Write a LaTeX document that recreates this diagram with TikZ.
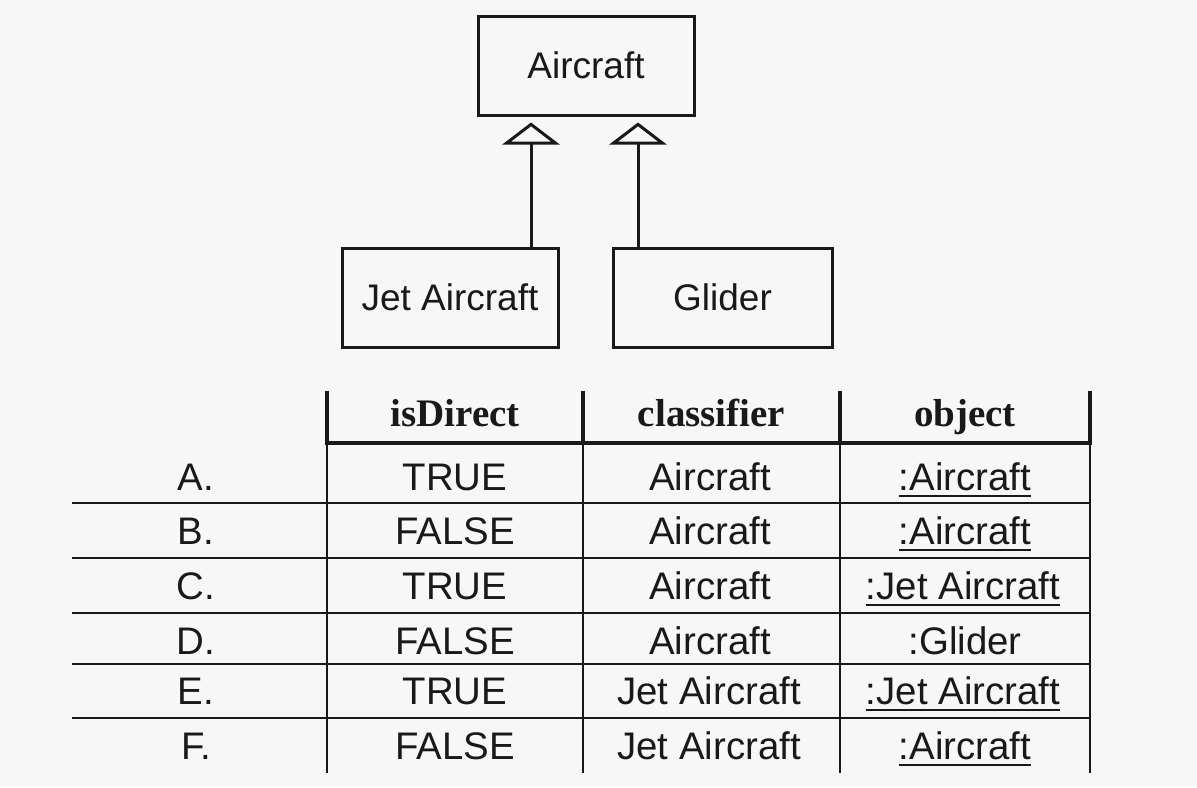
\documentclass[tikz,border=0pt]{standalone}
\usepackage{fontspec}
\setmainfont{Liberation Sans}
\newfontfamily\hdrfont{Liberation Serif}
\usetikzlibrary{arrows.meta}
\definecolor{bgc}{RGB}{247,247,247}
\definecolor{ink}{RGB}{25,25,25}
\newcommand{\objul}[1]{\setbox0\hbox{#1}\rlap{\color{ink}\rule[-3.6pt]{\wd0}{0.9pt}}\box0}
\tikzset{
 classbox/.style={draw=ink, line width=1.5pt, minimum width=108pt, minimum height=49.5pt, inner sep=0pt, font=\fontsize{18.5}{22}\selectfont, text=ink},
 gen/.style={draw=ink, line width=1.5pt, -{Triangle[open, width=28.5pt, length=11pt]}, shorten >=3pt},
 cell/.style={anchor=base, inner sep=0pt, font=\fontsize{19.2}{23}\selectfont, text=ink},
 hdr/.style={anchor=base, inner sep=0pt, font=\hdrfont\bfseries\fontsize{19.5}{23}\selectfont, text=ink},
 thinrule/.style={draw=ink, line width=1pt},
 thickrule/.style={draw=ink, line width=2.2pt, line cap=rect},
}
\begin{document}
\begin{tikzpicture}[x=0.5pt,y=-0.5pt]
\fill[bgc] (0,0) rectangle (1197,787);
\useasboundingbox (0,0) rectangle (1197,787);

% class boxes
\node[classbox] (aircraft) at (586,65.5) {Aircraft};
\node[classbox] (jet) at (450,297.5) {Jet Aircraft};
\node[classbox, minimum width=109.5pt] (glider) at (722.5,297.5) {Glider};

\coordinate (jx) at (531,0);
\coordinate (gx) at (638,0);
\draw[gen] (jet.north -| jx) -- (aircraft.south -| jx);
\draw[gen] (glider.north -| gx) -- (aircraft.south -| gx);

% table rules
\foreach \x in {327,583,840,1090} \draw[thickrule] (\x,393) -- (\x,443);
\draw[thickrule] (327,443) -- (1090,443);
\foreach \x in {327,583,840,1090} \draw[thinrule] (\x,443) -- (\x,773);
\foreach \y in {503,558,613,664,718} \draw[thinrule] (72,\y) -- (1090,\y);

% header
\node[hdr] (h1) at (455,426) {isDirect};
\node[hdr] (h2) at (711.5,426) {classifier};
\node[hdr] (h3) at (965,426) {object};

% rows
\node[cell] (la) at (196,490) {A.};
\node[cell] (lb) at (196,544) {B.};
\node[cell] (lc) at (196,599) {C.};
\node[cell] (ld) at (196,654) {D.};
\node[cell] (le) at (196,704) {E.};
\node[cell] (lf) at (196,759) {F.};

\node[cell] (da) at (455,490) {TRUE};
\node[cell] (db) at (455,544) {FALSE};
\node[cell] (dc) at (455,599) {TRUE};
\node[cell] (dd) at (455,654) {FALSE};
\node[cell] (de) at (455,704) {TRUE};
\node[cell] (df) at (455,759) {FALSE};

\node[cell] (ca) at (710,490) {Aircraft};
\node[cell] (cb) at (710,544) {Aircraft};
\node[cell] (cc) at (710,599) {Aircraft};
\node[cell] (cd) at (710,654) {Aircraft};
\node[cell] (ce) at (709,704) {Jet Aircraft};
\node[cell] (cf) at (709,759) {Jet Aircraft};

\node[cell] (oa) at (965,490) {\objul{:Aircraft}};
\node[cell] (ob) at (965,544) {\objul{:Aircraft}};
\node[cell] (oc) at (963,599) {\objul{:Jet Aircraft}};
\node[cell] (od) at (965,654) {:Glider};
\node[cell] (oe) at (963,704) {\objul{:Jet Aircraft}};
\node[cell] (of) at (965,759) {\objul{:Aircraft}};
\end{tikzpicture}
\end{document}
